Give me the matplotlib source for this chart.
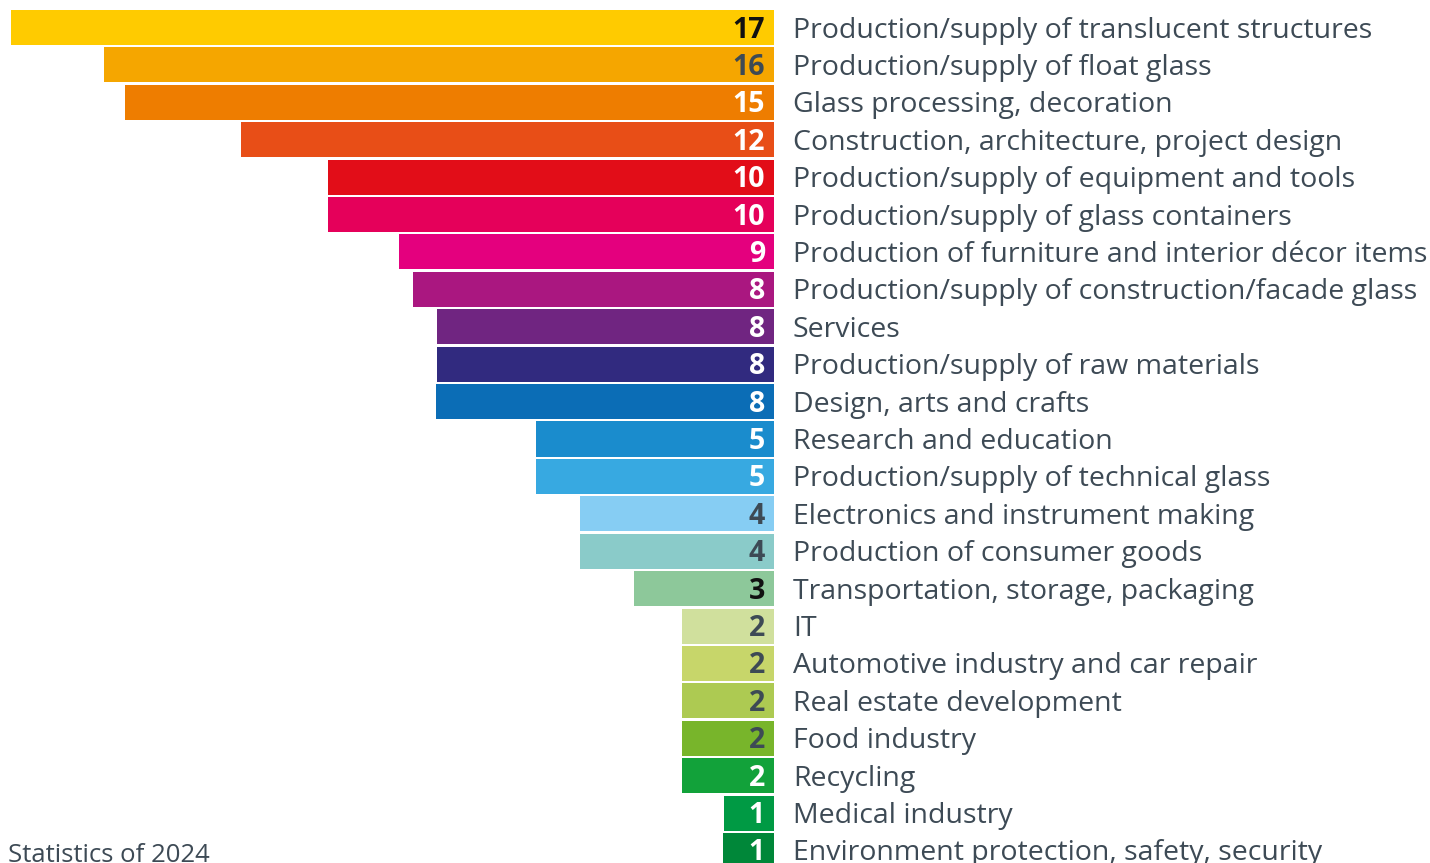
import matplotlib
matplotlib.use("Agg")
import matplotlib.pyplot as plt

categories = [
    "Production/supply of translucent structures",
    "Production/supply of float glass",
    "Glass processing, decoration",
    "Construction, architecture, project design",
    "Production/supply of equipment and tools",
    "Production/supply of glass containers",
    "Production of furniture and interior décor items",
    "Production/supply of construction/facade glass",
    "Services",
    "Production/supply of raw materials",
    "Design, arts and crafts",
    "Research and education",
    "Production/supply of technical glass",
    "Electronics and instrument making",
    "Production of consumer goods",
    "Transportation, storage, packaging",
    "IT",
    "Automotive industry and car repair",
    "Real estate development",
    "Food industry",
    "Recycling",
    "Medical industry",
    "Environment protection, safety, security",
]
values = [17.0, 14.92, 14.45, 11.87, 9.93, 9.93, 8.35, 8.04, 7.5, 7.5, 7.53,
          5.3, 5.3, 4.32, 4.32, 3.12, 2.05, 2.05, 2.05, 2.05, 2.05, 1.11, 1.13]
labels = ["17", "16", "15", "12", "10", "10", "9", "8", "8", "8", "8",
          "5", "5", "4", "4", "3", "2", "2", "2", "2", "2", "1", "1"]
colors = ["#FFCB00", "#F5A600", "#EE7D00", "#E84E17", "#E20D18", "#E5005A",
          "#E4007E", "#AA1780", "#702581", "#312A7F", "#0B6DB6", "#1A8CCD",
          "#37A9E1", "#86CDF3", "#8ACBC9", "#8DC89A", "#D0E09D", "#C7D66A",
          "#ADCA52", "#78B52B", "#12A23A", "#009A44", "#008739"]
label_colors = ["#111111", "#3D4A55", "white", "white", "white", "white",
                "white", "white", "white", "white", "white", "white", "white",
                "#3D4A55", "#3D4A55", "#111111", "#3D4A55", "#3D4A55",
                "#3D4A55", "#3D4A55", "white", "white", "white"]
footnote = "Statistics of 2024"

W, H = 1430, 863
fig = plt.figure(figsize=(W / 100, H / 100), dpi=100)
left_px, right_px = 11, 774
top_px, bot_px = 8.8, 869.2
ax = fig.add_axes([left_px / W, (H - bot_px) / H, (right_px - left_px) / W,
                   (bot_px - top_px) / H])
n = len(categories)
ypos = list(range(n))
ax.barh(ypos, values, height=0.936, color=colors, left=0)
ax.set_xlim(17.0, 0)
ax.set_ylim(n - 0.5, -0.5)
ax.axis("off")

font = "Open Sans"
txt_color = "#3D4A55"
px_per_unit_y = (bot_px - top_px) / n
cap_off = 10.0 / px_per_unit_y
for i, (lab, cat) in enumerate(zip(labels, categories)):
    ax.annotate(lab, xy=(0, i + cap_off), xytext=(-9, 0), textcoords="offset pixels",
                ha="right", va="baseline", fontsize=20.5, fontweight="bold",
                family=font, color=label_colors[i], annotation_clip=False)
    ax.annotate(cat, xy=(0, i + cap_off), xytext=(19, 0), textcoords="offset pixels",
                ha="left", va="baseline", fontsize=20.5, family=font,
                color=txt_color, annotation_clip=False)

fig.text(8 / W, (H - 862) / H, footnote, ha="left", va="baseline",
         fontsize=18.5, family=font, color=txt_color)

fig.savefig("out.png", dpi=100)
